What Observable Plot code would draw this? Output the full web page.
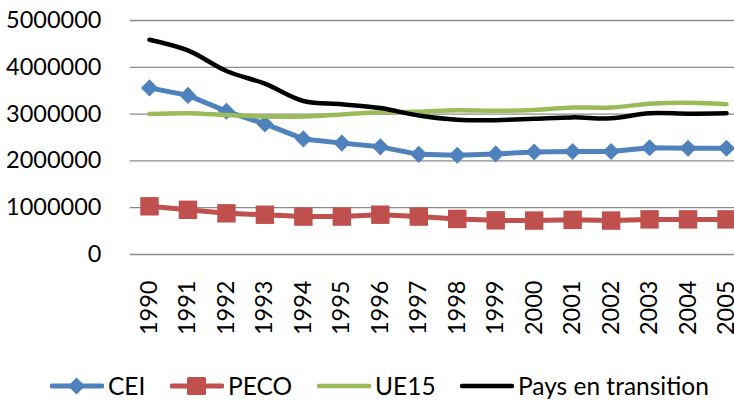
<!DOCTYPE html>
<html>
<head>
<meta charset="utf-8">
<script src="https://cdn.jsdelivr.net/npm/d3@7"></script>
<script src="https://cdn.jsdelivr.net/npm/@observablehq/plot@0.6"></script>
<style>
  html, body { margin: 0; padding: 0; background: #fff; }
  #wrap { position: relative; width: 734px; height: 402px; overflow: hidden; font-family: Lato, sans-serif; }
  #legend { position: absolute; left: 0; top: 371px; height: 30px; width: 734px; }
  .item { position: absolute; top: 0; height: 30px; display: flex; align-items: center; font-size: 24.5px; line-height: 28px; color: #000; white-space: nowrap; }
  .item svg { margin-right: 4px; flex: none; }
</style>
</head>
<body>
<div id="wrap"><div id="chart"></div><div id="legend"></div></div>
<script>
const years = [1990, 1991, 1992, 1993, 1994, 1995, 1996, 1997, 1998, 1999, 2000, 2001, 2002, 2003, 2004, 2005];
const seriesNames = ["CEI", "PECO", "UE15", "Pays en transition"];
const cei        = [3560000, 3400000, 3060000, 2790000, 2470000, 2380000, 2300000, 2140000, 2120000, 2150000, 2190000, 2200000, 2200000, 2280000, 2270000, 2270000];
const peco       = [1030000, 955000, 880000, 850000, 810000, 810000, 850000, 810000, 760000, 730000, 725000, 740000, 725000, 750000, 750000, 750000];
const ue15       = [3000000, 3020000, 2980000, 2950000, 2950000, 2990000, 3040000, 3050000, 3080000, 3070000, 3090000, 3140000, 3140000, 3220000, 3240000, 3210000];
const transition = [4590000, 4360000, 3920000, 3650000, 3280000, 3210000, 3130000, 2970000, 2880000, 2870000, 2900000, 2930000, 2910000, 3020000, 3010000, 3020000];
const yTicks = [0, 1000000, 2000000, 3000000, 4000000, 5000000];

const colors = {"CEI": "#4F81BD", "PECO": "#C0504D", "UE15": "#9BBB59", "Pays en transition": "#000000"};
const valuesBySeries = {"CEI": cei, "PECO": peco, "UE15": ue15, "Pays en transition": transition};
const rows = s => years.map((yr, i) => ({year: yr, value: valuesBySeries[s][i], series: s}));

const chart = Plot.plot({
  width: 734,
  height: 360,
  marginLeft: 130,
  marginRight: 8,
  marginTop: 20,
  marginBottom: 106,
  x: {type: "linear", domain: [1990, 2005], range: [149, 726], axis: null},
  y: {domain: [0, 5000000], range: [254, 20], axis: null},
  style: {fontFamily: "Lato, sans-serif", fontSize: "23.5px", color: "#000", background: "transparent", overflow: "visible"},
  marks: [
    Plot.ruleY(yTicks, {x1: 1989.5, x2: 2005.5, stroke: "#8c8c8c", strokeWidth: 1.3}),
    Plot.text(yTicks, {y: d => d, frameAnchor: "left", textAnchor: "end", dx: -29, text: d => String(d), fill: "#000"}),
    Plot.text(years, {x: d => d, frameAnchor: "bottom", rotate: -90, textAnchor: "end", lineAnchor: "middle", dy: 26, text: d => String(d), fill: "#000"}),
    Plot.line(rows("CEI"), {x: "year", y: "value", stroke: colors["CEI"], strokeWidth: 5}),
    Plot.dot(rows("CEI"), {x: "year", y: "value", symbol: "diamond2", r: 7.7, fill: colors["CEI"], stroke: "none"}),
    Plot.line(rows("PECO"), {x: "year", y: "value", stroke: colors["PECO"], strokeWidth: 5}),
    Plot.dot(rows("PECO"), {x: "year", y: "value", symbol: "square", r: 10.4, fill: colors["PECO"], stroke: "none"}),
    Plot.line(rows("UE15"), {x: "year", y: "value", stroke: colors["UE15"], strokeWidth: 4.5, curve: "catmull-rom"}),
    Plot.line(rows("Pays en transition"), {x: "year", y: "value", stroke: colors["Pays en transition"], strokeWidth: 4.5, curve: "catmull-rom"})
  ]
});
document.getElementById("chart").appendChild(chart);

// Legend
const legendLefts = [50, 170, 317, 460];
const markers = {"CEI": "diamond", "PECO": "square", "UE15": null, "Pays en transition": null};
const legend = document.getElementById("legend");
seriesNames.forEach((name, i) => {
  const item = document.createElement("div");
  item.className = "item";
  item.style.left = legendLefts[i] + "px";
  const c = colors[name];
  let marker = "";
  if (markers[name] === "diamond") marker = `<path d="M26.5,6.5 L35,15 L26.5,23.5 L18,15 Z" fill="${c}"/>`;
  if (markers[name] === "square") marker = `<rect x="17" y="6" width="19" height="18" rx="1.5" fill="${c}"/>`;
  item.innerHTML = `<svg width="54" height="30"><line x1="2" x2="52" y1="15" y2="15" stroke="${c}" stroke-width="${name === "CEI" || name === "PECO" ? 5 : 4.5}" stroke-linecap="round"/>${marker}</svg><span>${name}</span>`;
  legend.appendChild(item);
});
</script>
</body>
</html>
